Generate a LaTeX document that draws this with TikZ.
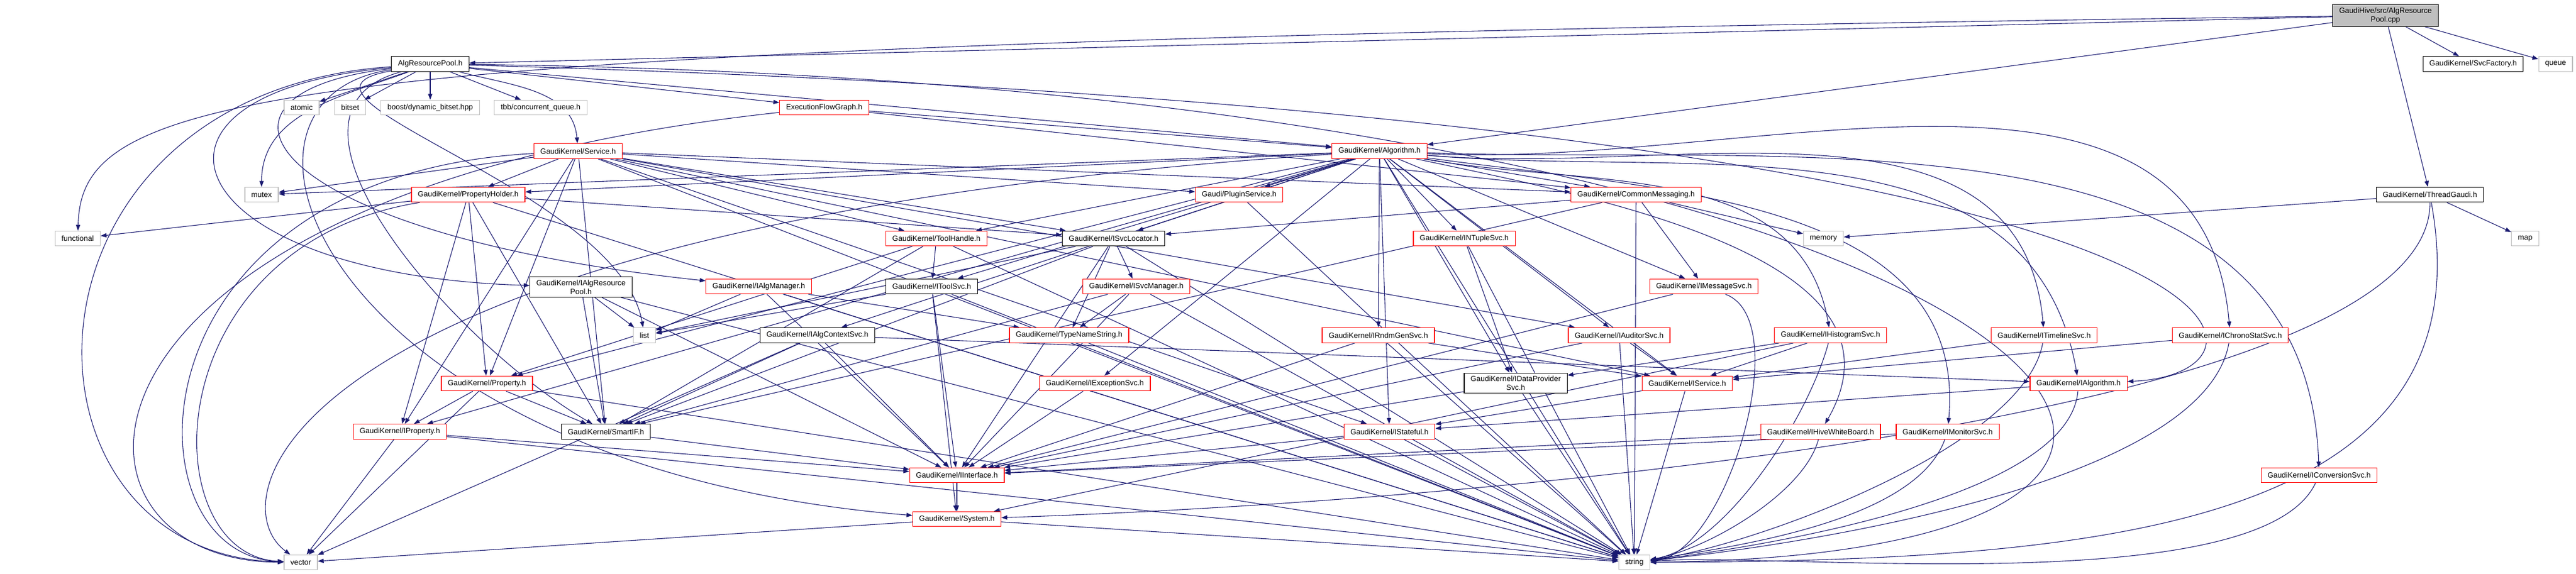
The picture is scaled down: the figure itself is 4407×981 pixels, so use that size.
\documentclass[tikz,border=0pt]{standalone}
\usepackage{fontspec}
\setmainfont{Liberation Sans}
\usetikzlibrary{arrows.meta,backgrounds}

\definecolor{edgeblue}{HTML}{191970}
\definecolor{boxgray}{HTML}{BFBFBF}

\begin{document}
\begin{tikzpicture}[x=0.5pt,y=-0.5pt,->,>={Triangle[length=5pt,width=3.6pt]},
	every node/.style={font=\fontsize{6.45}{7.6}\selectfont,inner xsep=5.5pt,inner ysep=2.5pt,minimum height=12.75pt,fill=white,line width=0.6pt},
	redbox/.style={draw=red},
	blackbox/.style={draw=black},
	graybox/.style={draw=boxgray},
	rootbox/.style={draw=black,fill=boxgray},
	link/.style={draw=edgeblue,line width=0.55pt},
	every edge/.style={link}]

	\useasboundingbox (0,0) rectangle (4407,981);

	% row 0 and 1
	\node[rootbox,align=center] (cpp)        at (4081,26.5)  {GaudiHive/src/AlgResource\\Pool.cpp};
	\node[blackbox]             (pool)       at (736,109.5)  {AlgResourcePool.h};
	\node[blackbox]             (svcfactory) at (4231,109.5) {GaudiKernel/SvcFactory.h};
	\node[graybox]              (queue)      at (4372,109.5) {queue};

	% row 2
	\node[graybox] (atomic)    at (516,184)  {atomic};
	\node[graybox] (bitset)    at (599,184)  {bitset};
	\node[graybox] (dynbitset) at (736,184)  {boost/dynamic\_bitset.hpp};
	\node[graybox] (tbbqueue)  at (925,184)  {tbb/concurrent\_queue.h};
	\node[redbox]  (efgraph)   at (1410,184) {ExecutionFlowGraph.h};

	% row 3
	\node[redbox] (service)   at (989,258.5)  {GaudiKernel/Service.h};
	\node[redbox] (algorithm) at (2360,258.5) {GaudiKernel/Algorithm.h};

	% row 4
	\node[graybox]  (mutex)       at (447.5,333) {mutex};
	\node[redbox]   (propholder)  at (801,333)   {GaudiKernel/PropertyHolder.h};
	\node[redbox]   (pluginsvc)   at (2120,333)  {Gaudi/PluginService.h};
	\node[redbox]   (commonmsg)   at (2799,333)  {GaudiKernel/CommonMessaging.h};
	\node[blackbox] (threadgaudi) at (4157,333)  {GaudiKernel/ThreadGaudi.h};

	% row 5
	\node[graybox]  (functional)  at (133,408)    {functional};
	\node[redbox]   (toolhandle)  at (1602,408)   {GaudiKernel/ToolHandle.h};
	\node[blackbox] (isvclocator) at (1905,408)   {GaudiKernel/ISvcLocator.h};
	\node[redbox]   (intuplesvc)  at (2505,408)   {GaudiKernel/INTupleSvc.h};
	\node[graybox]  (memory)      at (3119.5,408) {memory};
	\node[graybox]  (map)         at (4320,408)   {map};

	% row 6
	\node[blackbox,align=center] (ialgrespool) at (994,491) {GaudiKernel/IAlgResource\\Pool.h};
	\node[redbox]   (ialgmanager) at (1298,490) {GaudiKernel/IAlgManager.h};
	\node[blackbox] (itoolsvc)    at (1594,490) {GaudiKernel/IToolSvc.h};
	\node[redbox]   (isvcmanager) at (1944,490) {GaudiKernel/ISvcManager.h};
	\node[redbox]   (imessagesvc) at (2915,490) {GaudiKernel/IMessageSvc.h};

	% row 7
	\node[graybox]  (list)           at (1102.5,573.5) {list};
	\node[blackbox] (ialgctxsvc)     at (1398.5,573.5) {GaudiKernel/IAlgContextSvc.h};
	\node[redbox]   (typename)       at (1829,573.5)   {GaudiKernel/TypeNameString.h};
	\node[redbox]   (irndmgensvc)    at (2358,573.5)   {GaudiKernel/IRndmGenSvc.h};
	\node[redbox]   (iauditorsvc)    at (2770,573.5)   {GaudiKernel/IAuditorSvc.h};
	\node[redbox]   (ihistosvc)      at (3131.5,573.5) {GaudiKernel/IHistogramSvc.h};
	\node[redbox]   (itimelinesvc)   at (3497,573.5)   {GaudiKernel/ITimelineSvc.h};
	\node[redbox]   (ichronostatsvc) at (3815.5,573.5) {GaudiKernel/IChronoStatSvc.h};

	% row 8
	\node[redbox]   (property)      at (833,656)    {GaudiKernel/Property.h};
	\node[redbox]   (iexceptionsvc) at (1873,656)   {GaudiKernel/IExceptionSvc.h};
	\node[blackbox,align=center] (idataprovsvc) at (2593,655.5) {GaudiKernel/IDataProvider\\Svc.h};
	\node[redbox]   (iservice)      at (2886.5,656) {GaudiKernel/IService.h};
	\node[redbox]   (ialgorithm)    at (3556,656)   {GaudiKernel/IAlgorithm.h};

	% row 9
	\node[redbox]   (iproperty)   at (684,738.5)    {GaudiKernel/IProperty.h};
	\node[blackbox] (smartif)     at (1036.5,738.5) {GaudiKernel/SmartIF.h};
	\node[redbox]   (istateful)   at (2377,738.5)   {GaudiKernel/IStateful.h};
	\node[redbox]   (ihivewb)     at (3114.5,738.5) {GaudiKernel/IHiveWhiteBoard.h};
	\node[redbox]   (imonitorsvc) at (3332,738.5)   {GaudiKernel/IMonitorSvc.h};

	% rows 10 to 12
	\node[redbox]  (iinterface)     at (1637,813)   {GaudiKernel/IInterface.h};
	\node[redbox]  (iconversionsvc) at (3967.5,813) {GaudiKernel/IConversionSvc.h};
	\node[redbox]  (system)         at (1637,888)   {GaudiKernel/System.h};
	\node[graybox] (vector)         at (514.5,962)  {vector};
	\node[graybox] (string)         at (2796,962)   {string};

	\begin{scope}[on background layer]
	\path (cpp) edge (pool) edge (svcfactory) edge (queue)
	            edge (threadgaudi) edge (algorithm);
	\draw[link] (cpp) .. controls (450,75) and (140,150) .. (functional);

	\path (pool) edge (atomic) edge (bitset) edge (dynbitset) edge (tbbqueue)
	             edge (efgraph) edge (algorithm)
	             edge [out=-15,in=95] (service)
	             edge [out=200,in=90] (mutex)
	             edge [out=190,in=100] (list)
	             edge [out=195,in=150] (smartif);
	\draw[link] (pool) .. controls (0,160) and (0,950) .. (vector);
	\draw[link] (pool) .. controls (180,160) and (300,470) .. (ialgrespool);
	\draw[link] (pool) .. controls (300,160) and (450,400) .. (ialgmanager);
	\draw[link] (pool) .. controls (320,170) and (560,800) .. (system);
	\draw[link] (pool) .. controls (3500,140) and (4200,950) .. (string);
	\draw[link] (pool) .. controls (3950,200) and (3950,640) .. (ialgorithm);

	\path (efgraph) edge (algorithm) edge (commonmsg);
	\draw[link] (efgraph) .. controls (60,330) and (60,960) .. (vector);

	\path (service) edge (mutex) edge (propholder) edge (pluginsvc) edge (commonmsg)
	                edge (toolhandle) edge (isvclocator) edge (property) edge (iproperty)
	                edge (smartif) edge (iservice) edge (istateful) edge (iauditorsvc)
	                edge (string);
	\draw[link] (service) .. controls (210,300) and (210,950) .. (vector);

	\path (algorithm) edge (mutex) edge (propholder) edge (pluginsvc) edge (commonmsg)
	                  edge (toolhandle) edge (isvclocator) edge (intuplesvc) edge (imessagesvc)
	                  edge (itoolsvc) edge (ialgctxsvc) edge (iexceptionsvc) edge (irndmgensvc)
	                  edge (iauditorsvc) edge (idataprovsvc) edge (iservice) edge (istateful)
	                  edge (property) edge (iproperty) edge (string)
	                  edge [out=-10,in=100] (ihistosvc)
	                  edge [out=-5,in=95] (itimelinesvc)
	                  edge [out=-3,in=95] (ichronostatsvc)
	                  edge [out=-12,in=60] (ihivewb)
	                  edge [out=-8,in=85] (imonitorsvc)
	                  edge [out=-5,in=100] (ialgorithm)
	                  edge [out=-2,in=92] (iconversionsvc);
	\draw[link] (algorithm) .. controls (500,380) and (363,850) .. (vector);

	\path (propholder) edge (functional) edge (property) edge (iproperty)
	                   edge (isvclocator) edge (smartif) edge (string);
	\draw[link] (propholder) .. controls (261,420) and (261,950) .. (vector);

	\path (pluginsvc) edge (string)
	      (commonmsg) edge (isvclocator) edge (smartif) edge (imessagesvc)
	                  edge (memory) edge (string)
	      (threadgaudi) edge (memory) edge (map);
	\draw[link] (threadgaudi) .. controls (4160,720) and (2500,860) .. (system);
	\draw[link] (threadgaudi) .. controls (4260,900) and (3600,960) .. (string);

	\path (toolhandle) edge (itoolsvc) edge (property) edge (smartif) edge (string)
	      (isvclocator) edge (isvcmanager) edge (iinterface) edge (smartif)
	                    edge (list) edge (typename) edge (string)
	      (intuplesvc) edge (idataprovsvc) edge (string)
	      (imessagesvc) edge (iinterface) edge [out=-20,in=5,looseness=0.7] (string)
	      (ialgrespool) edge (list) edge (smartif) edge (iinterface) edge (string)
	      (ialgmanager) edge (list) edge (typename) edge (iinterface) edge (string)
	      (itoolsvc) edge (list) edge (iinterface) edge (system) edge (string)
	      (isvcmanager) edge (typename) edge (smartif) edge (iinterface) edge (string)
	      (typename) edge (string)
	      (ialgctxsvc) edge (iinterface) edge (ialgorithm) edge (smartif) edge (vector)
	      (iexceptionsvc) edge (iinterface)
	      (irndmgensvc) edge (iservice) edge (iinterface) edge (string)
	      (iauditorsvc) edge (iservice) edge (iinterface) edge (string)
	      (ihistosvc) edge (idataprovsvc) edge (iservice) edge (system)
	                  edge [out=-105,in=10,looseness=0.7] (string)
	      (itimelinesvc) edge (iservice) edge [out=-100,in=8,looseness=0.6] (string)
	      (ichronostatsvc) edge (iservice) edge [out=-100,in=6,looseness=0.6] (string)
	      (idataprovsvc) edge (iinterface) edge (string)
	      (iservice) edge (istateful) edge (string)
	      (ialgorithm) edge (istateful) edge [out=-95,in=7,looseness=0.6] (string)
	      (property) edge (iproperty) edge (smartif) edge (string) edge (vector)
	      (iproperty) edge (iinterface) edge (vector) edge (string)
	      (smartif) edge (iinterface)
	      (istateful) edge (iinterface) edge (string)
	      (ihivewb) edge (iinterface) edge [out=-105,in=10,looseness=0.7] (string)
	      (imonitorsvc) edge (iinterface) edge [out=-110,in=9,looseness=0.7] (string)
	      (iconversionsvc) edge [out=-115,in=4,looseness=0.5] (string)
	      (iinterface) edge (system)
	      (system) edge (string) edge (vector);
	\end{scope}

\end{tikzpicture}
\end{document}
